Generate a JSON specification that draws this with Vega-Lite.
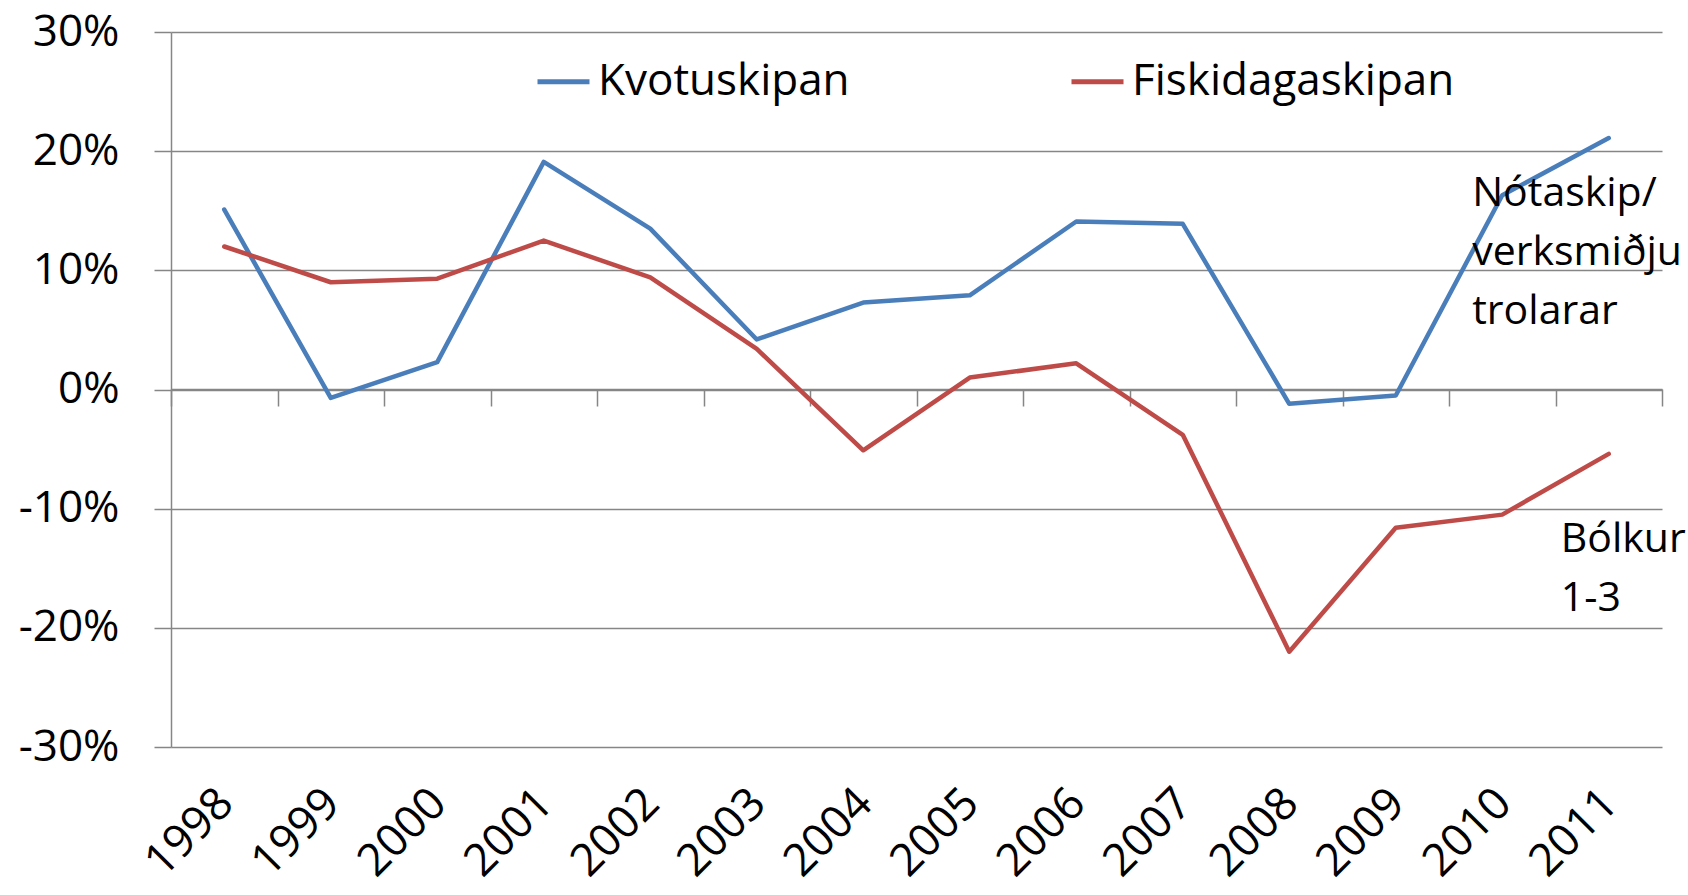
{
  "$schema": "https://vega.github.io/schema/vega-lite/v6.json",
  "width": 1491,
  "height": 715,
  "autosize": {"type": "none"},
  "padding": {"left": 171, "top": 32, "right": 26, "bottom": 148},
  "background": "white",
  "config": {"font": "Open Sans", "view": {"stroke": null}},
  "data": {
    "values": [
      {"year": "1998", "series": "Kvotuskipan", "value": 0.151},
      {"year": "1999", "series": "Kvotuskipan", "value": -0.007},
      {"year": "2000", "series": "Kvotuskipan", "value": 0.023},
      {"year": "2001", "series": "Kvotuskipan", "value": 0.191},
      {"year": "2002", "series": "Kvotuskipan", "value": 0.135},
      {"year": "2003", "series": "Kvotuskipan", "value": 0.042},
      {"year": "2004", "series": "Kvotuskipan", "value": 0.073},
      {"year": "2005", "series": "Kvotuskipan", "value": 0.079},
      {"year": "2006", "series": "Kvotuskipan", "value": 0.141},
      {"year": "2007", "series": "Kvotuskipan", "value": 0.139},
      {"year": "2008", "series": "Kvotuskipan", "value": -0.012},
      {"year": "2009", "series": "Kvotuskipan", "value": -0.005},
      {"year": "2010", "series": "Kvotuskipan", "value": 0.163},
      {"year": "2011", "series": "Kvotuskipan", "value": 0.211},
      {"year": "1998", "series": "Fiskidagaskipan", "value": 0.120},
      {"year": "1999", "series": "Fiskidagaskipan", "value": 0.090},
      {"year": "2000", "series": "Fiskidagaskipan", "value": 0.093},
      {"year": "2001", "series": "Fiskidagaskipan", "value": 0.125},
      {"year": "2002", "series": "Fiskidagaskipan", "value": 0.094},
      {"year": "2003", "series": "Fiskidagaskipan", "value": 0.034},
      {"year": "2004", "series": "Fiskidagaskipan", "value": -0.051},
      {"year": "2005", "series": "Fiskidagaskipan", "value": 0.010},
      {"year": "2006", "series": "Fiskidagaskipan", "value": 0.022},
      {"year": "2007", "series": "Fiskidagaskipan", "value": -0.038},
      {"year": "2008", "series": "Fiskidagaskipan", "value": -0.220},
      {"year": "2009", "series": "Fiskidagaskipan", "value": -0.116},
      {"year": "2010", "series": "Fiskidagaskipan", "value": -0.105},
      {"year": "2011", "series": "Fiskidagaskipan", "value": -0.054}
    ]
  },
  "layer": [
    {
      "mark": {"type": "line", "strokeWidth": 4.5, "strokeCap": "round", "strokeJoin": "round"},
      "encoding": {
        "x": {
          "field": "year", "type": "ordinal",
          "scale": {"type": "band", "paddingInner": 0, "paddingOuter": 0},
          "axis": {
            "orient": "bottom", "title": null, "domain": false, "ticks": false, "grid": false,
            "labelAngle": -45, "labelFontSize": 45, "labelColor": "#000000",
            "labelPadding": 33, "labelOffset": -14
          }
        },
        "y": {
          "field": "value", "type": "quantitative",
          "scale": {"domain": [-0.3, 0.3], "nice": false, "zero": false},
          "axis": {
            "title": null, "values": [-0.3, -0.2, -0.1, 0, 0.1, 0.2, 0.3], "format": ".0%",
            "labelExpr": "replace(datum.label, '−', '-')",
            "labelFontSize": 44, "labelColor": "#000000", "labelPadding": 35,
            "domain": true, "domainColor": "#868686", "domainWidth": 1.5,
            "ticks": true, "tickSize": 17, "tickColor": "#868686", "tickWidth": 1.5,
            "grid": true, "gridColor": "#868686", "gridWidth": 1.5
          }
        },
        "color": {
          "field": "series", "type": "nominal",
          "scale": {"domain": ["Kvotuskipan", "Fiskidagaskipan"], "range": ["#4A7EBB", "#BE4B48"]},
          "legend": {
            "orient": "none", "legendX": 364, "legendY": 21, "direction": "horizontal",
            "title": null, "symbolType": "stroke", "symbolSize": 2704, "symbolStrokeWidth": 5,
            "labelFontSize": 44, "labelColor": "#000000", "labelOffset": 6, "labelLimit": 0,
            "columnPadding": 211
          }
        }
      }
    },
    {
      "data": {"values": [{"year": "2010", "value": 0.154, "label": ["Nótaskip/", "verksmiðju", "trolarar"]}]},
      "mark": {"type": "text", "align": "left", "baseline": "alphabetic", "fontSize": 41, "lineHeight": 59, "dx": -30, "color": "#000000"},
      "encoding": {
        "x": {
          "field": "year", "type": "ordinal",
          "axis": {
            "orient": "bottom", "offset": -358, "title": null, "labels": false, "grid": false,
            "domain": true, "domainColor": "#868686", "domainWidth": 1.5,
            "ticks": true, "tickBand": "extent", "tickSize": 17, "tickColor": "#868686", "tickWidth": 1.5
          }
        },
        "y": {"field": "value", "type": "quantitative"},
        "text": {"field": "label"}
      }
    },
    {
      "data": {"values": [{"year": "2011", "value": -0.136, "label": ["Bólkur", "1-3"]}]},
      "mark": {"type": "text", "align": "left", "baseline": "alphabetic", "fontSize": 41, "lineHeight": 59, "dx": -48, "color": "#000000"},
      "encoding": {
        "x": {"field": "year", "type": "ordinal", "axis": null},
        "y": {"field": "value", "type": "quantitative"},
        "text": {"field": "label"}
      }
    }
  ],
  "resolve": {"axis": {"x": "independent"}}
}
